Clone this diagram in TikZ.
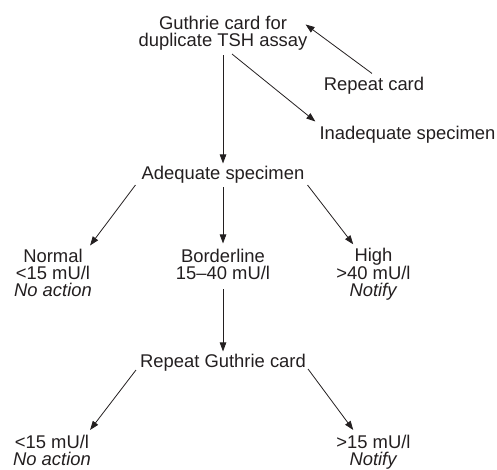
\documentclass[tikz,border=0pt]{standalone}
\usepackage{fontspec}
\setmainfont{Liberation Sans}
\usetikzlibrary{arrows.meta}
\definecolor{ink}{HTML}{231F20}
\begin{document}
\begin{tikzpicture}[x=1pt,y=1pt,
  lbl/.style={inner sep=0pt,anchor=base,align=center,text=ink,
    font=\fontsize{18.4}{17}\selectfont},
  arr/.style={draw=ink,line width=0.8pt,-{Triangle[length=9pt,width=6.5pt]}}]
\useasboundingbox (0,0) rectangle (497,470);
% nodes (anchor base = baseline of the last line)
\node[lbl] (top)    at (223,423)   {Guthrie card for\\duplicate TSH assay};
\node[lbl] (rc)     at (374,379)   {Repeat card};
\node[lbl] (inad)   at (407.5,330) {Inadequate specimen};
\node[lbl] (ad)     at (223,290)   {Adequate specimen};
\node[lbl] (normal) at (53,173)    {Normal\\<15 mU/l\\\textit{No action}};
\node[lbl] (border) at (223,190)   {Borderline\\15–40 mU/l};
\node[lbl] (high)   at (373.5,173) {High\\>40 mU/l\\\textit{Notify}};
\node[lbl] (rg)     at (223,102)   {Repeat Guthrie card};
\node[lbl] (low2)   at (52,4.5)    {<15 mU/l\\\textit{No action}};
\node[lbl] (high2)  at (373.5,4.5) {>15 mU/l\\\textit{Notify}};
% connectors
\draw[arr] ([xshift=-2pt,yshift=4pt]rc.north) -- ([xshift=-2pt,yshift=-8pt]top.north east);
\draw[arr] ([xshift=9pt,yshift=-3pt]top.south) -- ([xshift=-4pt,yshift=5pt]inad.north west);
\draw[arr] ([yshift=-4pt]top.south) -- ([yshift=3pt]ad.north);
\draw[arr] ([xshift=-6pt,yshift=-1pt]ad.south west) -- ([xshift=-2pt,yshift=4pt]normal.north east);
\draw[arr] ([yshift=-3pt]ad.south) -- ([yshift=6pt]border.north);
\draw[arr] ([xshift=3pt,yshift=-1pt]ad.south east) -- ([xshift=17pt,yshift=4pt]high.north west);
\draw[arr] ([yshift=-9pt]border.south) -- ([yshift=3pt]rg.north);
\draw[arr] ([xshift=-4pt,yshift=2pt]rg.south west) -- ([xshift=-1pt,yshift=5pt]low2.north east);
\draw[arr] ([xshift=2pt,yshift=3pt]rg.south east) -- ([xshift=17pt,yshift=5pt]high2.north west);
\end{tikzpicture}
\end{document}
